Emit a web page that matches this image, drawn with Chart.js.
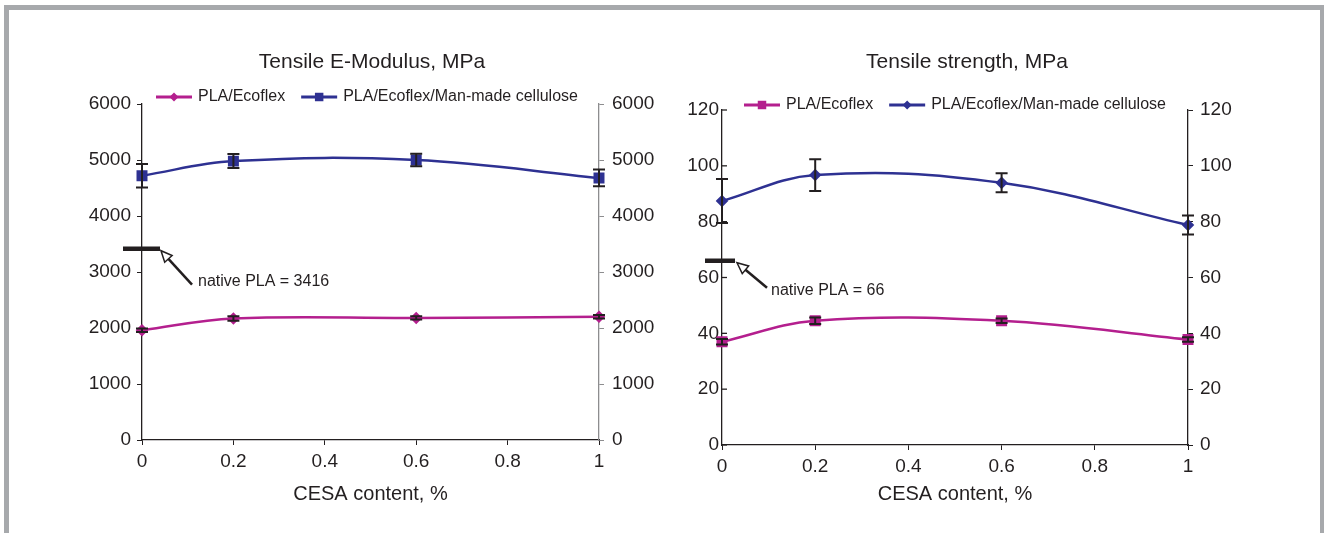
<!DOCTYPE html>
<html>
<head>
<meta charset="utf-8">
<script src="https://cdn.jsdelivr.net/npm/chart.js@4/dist/chart.umd.min.js"></script>
<style>
  html, body { margin: 0; padding: 0; background: #fff; }
  body { width: 1326px; height: 533px; position: relative; overflow: hidden; }
  #frame {
    position: absolute; left: 4px; top: 5px; width: 1311px; height: 600px;
    border-top: 5px solid #a7a9ac; border-left: 5px solid #a7a9ac; border-right: 4px solid #a7a9ac;
  }
  canvas { position: absolute; top: 0; }
  #modulus { left: 0; }
  #strength { left: 663px; }
</style>
</head>
<body>
<div id="frame"></div>
<canvas id="modulus" width="663" height="533"></canvas>
<canvas id="strength" width="663" height="533"></canvas>
<script>
// data
const cesa = [0, 0.2, 0.6, 1];
const xTicks = [0, 0.2, 0.4, 0.6, 0.8, 1];
const seriesNames = ['PLA/Ecoflex', 'PLA/Ecoflex/Man-made cellulose'];

const modulusEcoflex = [1960, 2170, 2180, 2200];
const modulusEcoflexErr = [30, 40, 30, 30];
const modulusCellulose = [4720, 4980, 5000, 4680];
const modulusCelluloseErr = [210, 125, 110, 150];
const modulusTicks = [0, 1000, 2000, 3000, 4000, 5000, 6000];
const modulusNative = 3416;

const strengthEcoflex = [37.0, 44.5, 44.5, 37.8];
const strengthEcoflexErr = [1, 1.2, 0.8, 0.8];
const strengthCellulose = [87.4, 96.7, 93.9, 78.8];
const strengthCelluloseErr = [7.9, 5.7, 3.4, 3.4];
const strengthTicks = [0, 20, 40, 60, 80, 100, 120];
const strengthNative = 66;

const MAGENTA = '#b41f8e';
const BLUE = '#2e3192';
const INK = '#231f20';
const FONT = '"Liberation Sans", Arial, sans-serif';

Chart.defaults.font.family = FONT;
Chart.defaults.color = INK;

function marker(ctx, style, x, y, r, color) {
  ctx.fillStyle = color;
  ctx.beginPath();
  if (style === 'rect') {
    const s = r * Math.SQRT1_2;
    ctx.rect(x - s, y - s, 2 * s, 2 * s);
  } else {
    ctx.moveTo(x, y - r); ctx.lineTo(x + r, y); ctx.lineTo(x, y + r); ctx.lineTo(x - r, y);
    ctx.closePath();
  }
  ctx.fill();
}

// error bars, native PLA mark, title and legend
const extras = {
  id: 'extras',
  afterDatasetsDraw(chart) {
    const ctx = chart.ctx, xs = chart.scales.x, ys = chart.scales.y;
    ctx.save();
    ctx.strokeStyle = INK;
    ctx.lineWidth = 2;
    chart.data.datasets.forEach(ds => {
      ds.errors.forEach((e, i) => {
        const px = xs.getPixelForValue(ds.data[i].x);
        const top = ys.getPixelForValue(ds.data[i].y + e);
        const bot = ys.getPixelForValue(ds.data[i].y - e);
        ctx.beginPath();
        ctx.moveTo(px, top); ctx.lineTo(px, bot);
        ctx.moveTo(px - 6, top); ctx.lineTo(px + 6, top);
        ctx.moveTo(px - 6, bot); ctx.lineTo(px + 6, bot);
        ctx.stroke();
      });
    });
    ctx.restore();
  },
  afterDraw(chart, args, opts) {
    const ctx = chart.ctx, xs = chart.scales.x, ys = chart.scales.y;
    ctx.save();

    // title
    ctx.fillStyle = INK;
    ctx.font = '21px ' + FONT;
    ctx.textAlign = 'center';
    ctx.textBaseline = 'middle';
    ctx.fillText(opts.title, opts.titleX, opts.titleY);

    // legend: line with marker, then text
    ctx.font = '16px ' + FONT;
    ctx.textAlign = 'left';
    let lx = opts.legendX;
    const ly = opts.legendY;
    chart.data.datasets.forEach(ds => {
      ctx.strokeStyle = ds.borderColor;
      ctx.lineWidth = 3;
      ctx.beginPath(); ctx.moveTo(lx, ly); ctx.lineTo(lx + 36, ly); ctx.stroke();
      marker(ctx, ds.pointStyle, lx + 18, ly, ds.pointStyle === 'rect' ? 6 : 4.5, ds.borderColor);
      ctx.fillStyle = INK;
      ctx.fillText(ds.label, lx + 42, ly);
      lx += 42 + ctx.measureText(ds.label).width + 16;
    });

    // inside tick marks on the left axis (strength chart)
    if (opts.innerTicks) {
      ctx.strokeStyle = INK;
      ctx.lineWidth = 1.3;
      ys.ticks.forEach(t => {
        const py = ys.getPixelForValue(t.value);
        ctx.beginPath(); ctx.moveTo(xs.left, py); ctx.lineTo(xs.left + 5, py); ctx.stroke();
      });
    }

    // native PLA level
    const a = opts.note;
    const x0 = xs.getPixelForValue(0);
    const y0 = ys.getPixelForValue(a.value);
    ctx.strokeStyle = INK;
    ctx.lineWidth = 4.5;
    ctx.beginPath(); ctx.moveTo(x0 + a.from, y0); ctx.lineTo(x0 + a.to, y0); ctx.stroke();

    const tipX = x0 + a.tip[0], tipY = y0 + a.tip[1];
    const tailX = x0 + a.tail[0], tailY = y0 + a.tail[1];
    const ang = Math.atan2(tipY - tailY, tipX - tailX);
    const hl = 11, hw = 5;
    const bx = tipX - hl * Math.cos(ang), by = tipY - hl * Math.sin(ang);
    ctx.lineWidth = 2.5;
    ctx.beginPath(); ctx.moveTo(tailX, tailY); ctx.lineTo(bx, by); ctx.stroke();
    ctx.lineWidth = 1.5;
    ctx.fillStyle = '#fff';
    ctx.beginPath();
    ctx.moveTo(tipX, tipY);
    ctx.lineTo(bx + hw * Math.sin(ang), by - hw * Math.cos(ang));
    ctx.lineTo(bx - hw * Math.sin(ang), by + hw * Math.cos(ang));
    ctx.closePath();
    ctx.fill(); ctx.stroke();

    ctx.fillStyle = INK;
    ctx.font = '16px ' + FONT;
    ctx.textAlign = 'left';
    ctx.textBaseline = 'middle';
    ctx.fillText('native PLA = ' + a.value, x0 + a.text[0], y0 + a.text[1]);
    ctx.restore();
  }
};

function series(label, ys, errs, color, style, radius) {
  return {
    label,
    data: cesa.map((x, i) => ({ x, y: ys[i] })),
    errors: errs,
    borderColor: color,
    backgroundColor: color,
    pointBackgroundColor: color,
    pointBorderColor: color,
    pointStyle: style,
    pointRadius: radius,
    borderWidth: 2.5,
    tension: 0.38,
    clip: false
  };
}

function yAxis(pos, ticks, width, lineColor, tickLen, pad) {
  return {
    type: 'linear',
    position: pos,
    min: ticks[0],
    max: ticks[ticks.length - 1],
    afterBuildTicks: s => { s.ticks = ticks.map(v => ({ value: v })); },
    afterFit: s => { s.width = width; },
    ticks: { font: { size: 19 }, color: INK, padding: pad, callback: v => String(v) },
    grid: { drawOnChartArea: false, drawTicks: tickLen > 0, tickLength: tickLen, color: lineColor },
    border: { color: lineColor, width: 1.3 }
  };
}

function build(id, cfg) {
  new Chart(document.getElementById(id), {
    type: 'line',
    data: { datasets: cfg.datasets },
    plugins: [extras],
    options: {
      responsive: false,
      animation: false,
      devicePixelRatio: 1,
      layout: { padding: { top: cfg.top, left: 0, right: 0, bottom: 0 } },
      plugins: {
        legend: { display: false },
        tooltip: { enabled: false },
        extras: cfg.extras
      },
      scales: {
        x: {
          type: 'linear',
          min: 0,
          max: 1,
          afterBuildTicks: s => { s.ticks = xTicks.map(v => ({ value: v })); },
          afterFit: s => { s.height = cfg.xHeight; },
          ticks: { font: { size: 19 }, color: INK, padding: 5, callback: v => String(v) },
          grid: { drawOnChartArea: false, tickLength: 5, color: INK },
          border: { color: INK, width: 1.3 },
          title: { display: true, text: 'CESA content, %', font: { size: 20 }, color: INK, padding: { top: 0, bottom: 27 } }
        },
        y: cfg.yLeft,
        y2: cfg.yRight
      }
    }
  });
}

build('modulus', {
  top: 104,
  xHeight: 93,
  datasets: [
    series(seriesNames[0], modulusEcoflex, modulusEcoflexErr, MAGENTA, 'rectRot', 4.5),
    series(seriesNames[1], modulusCellulose, modulusCelluloseErr, BLUE, 'rect', 6)
  ],
  yLeft: yAxis('left', modulusTicks, 142, INK, 5, 6),
  yRight: yAxis('right', modulusTicks, 64, '#8d8d8f', 5, 8),
  extras: {
    title: 'Tensile E-Modulus, MPa', titleX: 372, titleY: 62,
    legendX: 156, legendY: 97,
    innerTicks: false,
    note: { value: modulusNative, from: -19, to: 18, tip: [19, 2], tail: [50, 36], text: [56, 33] }
  }
});

build('strength', {
  top: 110,
  xHeight: 88,
  datasets: [
    series(seriesNames[0], strengthEcoflex, strengthEcoflexErr, MAGENTA, 'rect', 6),
    series(seriesNames[1], strengthCellulose, strengthCelluloseErr, BLUE, 'rectRot', 4.5)
  ],
  yLeft: yAxis('left', strengthTicks, 59, INK, 0, 3),
  yRight: yAxis('right', strengthTicks, 138, INK, 5, 7),
  extras: {
    title: 'Tensile strength, MPa', titleX: 304, titleY: 62,
    legendX: 81, legendY: 105,
    innerTicks: true,
    note: { value: strengthNative, from: -17, to: 13, tip: [15, 2], tail: [45, 27], text: [49, 30] }
  }
});
</script>
</body>
</html>
